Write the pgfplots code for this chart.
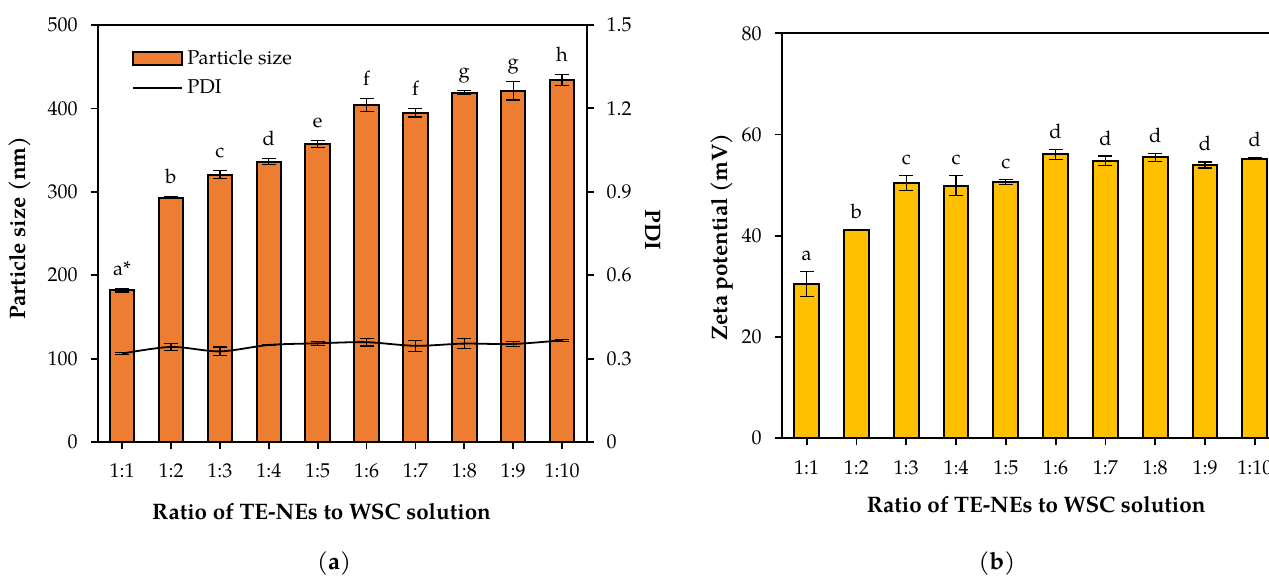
\documentclass[border=0pt]{standalone}
\usepackage{fontspec}
\setmainfont{TeX Gyre Pagella}
\usepackage{pgfplots}
\usepackage{pgfplotstable}
\pgfplotsset{compat=1.18}

\definecolor{barorange}{HTML}{ED7D31}
\definecolor{baryellow}{HTML}{FFC000}

% particle size (nm), sd, letter
\pgfplotstableread{
x y e lab
0 182 2.2 a*
1 293 1.2 b
2 320.5 4.8 c
3 336 3.6 d
4 357 4.2 e
5 404 7.6 f
6 395 5.2 f
7 419 2.2 g
8 421 11 g
9 434 6.8 h
}\psize

% PDI, sd
\pgfplotstableread{
x p e
0 0.318 0.003
1 0.342 0.012
2 0.326 0.016
3 0.349 0.003
4 0.355 0.007
5 0.359 0.014
6 0.346 0.020
7 0.354 0.019
8 0.3525 0.010
9 0.366 0.004
}\pdi

% zeta potential (mV), sd, letter
\pgfplotstableread{
x y e lab
0 30.5 2.5 a
1 41.1 0.1 b
2 50.4 1.5 c
3 49.9 2.0 c
4 50.6 0.45 c
5 56.1 1.0 d
6 54.8 0.95 d
7 55.5 0.75 d
8 54.0 0.6 d
9 55.2 0.2 d
}\zeta

\newcommand{\lblfont}{\fontsize{11.2}{13}\selectfont\bfseries}

\pgfplotsset{
  panel/.style={
    scale only axis,
    xmin=-0.5, xmax=9.5,
    xtick={0,...,9},
    xticklabels={1:1,1:2,1:3,1:4,1:5,1:6,1:7,1:8,1:9,1:10},
    xtick pos=left, ytick pos=left,
    tick align=outside,
    major tick length=3.5pt,
    every tick/.style={black, line width=0.9pt},
    axis line style={line width=1pt},
    /pgf/number format/assume math mode=true,
    xticklabel shift=4pt,
    yticklabel shift=3pt,
    bar width=0.5,
  },
  errs/.style={
    error bars/.cd, y dir=both, y explicit,
    error bar style={line width=0.6pt, black},
    error mark options={rotate=90, mark size=3.5pt, line width=0.6pt, black},
  },
}

\begin{document}
\begin{tikzpicture}[font=\fontsize{10}{12}\selectfont]

% (a) particle size + PDI
\begin{axis}[panel,
  at={(48.85pt,-221pt)}, anchor=south west,
  width=244.4pt, height=208.5pt,
  ymin=0, ymax=500, ytick={0,100,...,500},
  xlabel={Ratio of TE-NEs to WSC solution},
  ylabel={Particle size (nm)},
  every axis x label/.style={at={(rel axis cs:0.458,0)}, yshift=-34.85pt, anchor=center, font=\lblfont},
  every axis y label/.style={at={(rel axis cs:0,0.513)}, xshift=-38.85pt, rotate=90, anchor=center, font=\lblfont},
  legend style={draw=none, fill=none, at={(rel axis cs:0.07,0.951)}, anchor=north west,
    font=\fontsize{10}{12}\selectfont, row sep=2pt, inner sep=0pt},
  legend cell align=left,
]
\addplot[ybar, fill=barorange, draw=black, line width=1pt,
  legend image code/.code={\draw[fill=barorange, draw=black, line width=1pt] (0pt,-3.1pt) rectangle (24.5pt,3.1pt);},
  errs]
  table[x=x, y=y, y error=e]{\psize};
\addlegendentry{Particle size}
\addlegendimage{black, line width=0.9pt, legend image code/.code={\draw[black, line width=0.9pt] (0pt,0pt) -- (24.5pt,0pt);}}
\addlegendentry{PDI}
\addplot[draw=none, forget plot, nodes near coords, point meta=explicit symbolic,
  every node near coord/.style={anchor=base, yshift=6.5pt, inner sep=0pt, text=black}]
  table[x=x, y expr=\thisrow{y}+\thisrow{e}, meta=lab]{\psize};
\end{axis}

\begin{axis}[panel,
  at={(48.85pt,-221pt)}, anchor=south west,
  width=244.4pt, height=208.5pt,
  axis x line=none, axis y line*=right,
  ytick pos=right,
  ymin=0, ymax=1.5, ytick={0,0.3,0.6,0.9,1.2,1.5},
  ylabel={PDI},
  every axis y label/.style={at={(rel axis cs:1,0.508)}, xshift=33.25pt, rotate=-90, anchor=center, font=\lblfont},
]
\addplot[black, line width=0.9pt, smooth, mark=none, errs]
  table[x=x, y=p, y error=e]{\pdi};
\end{axis}

% (b) zeta potential
\begin{axis}[panel,
  at={(390.85pt,-219.15pt)}, anchor=south west,
  width=249pt, height=202.5pt,
  ymin=0, ymax=80, ytick={0,20,...,80},
  xlabel={Ratio of TE-NEs to WSC solution},
  ylabel={Zeta potential (mV)},
  every axis x label/.style={at={(rel axis cs:0.511,0)}, yshift=-33.35pt, anchor=center, font=\lblfont},
  every axis y label/.style={at={(rel axis cs:0,0.497)}, xshift=-30pt, rotate=90, anchor=center, font=\lblfont},
]
\addplot[ybar, fill=baryellow, draw=black, line width=1pt, errs]
  table[x=x, y=y, y error=e]{\zeta};
\addplot[draw=none, forget plot, nodes near coords, point meta=explicit symbolic,
  every node near coord/.style={anchor=base, yshift=5.5pt, inner sep=0pt, text=black}]
  table[x=x, y expr=\thisrow{y}+\thisrow{e}, meta=lab]{\zeta};
\end{axis}

\node[font=\fontsize{12}{14}\selectfont] at (167pt,-281.5pt) {(\textbf{a})};
\node[font=\fontsize{12}{14}\selectfont] at (498.5pt,-281.5pt) {(\textbf{b})};

\pgfresetboundingbox
\path[use as bounding box] (0pt,0pt) rectangle (634.5pt,-288.5pt);
\end{tikzpicture}
\end{document}
